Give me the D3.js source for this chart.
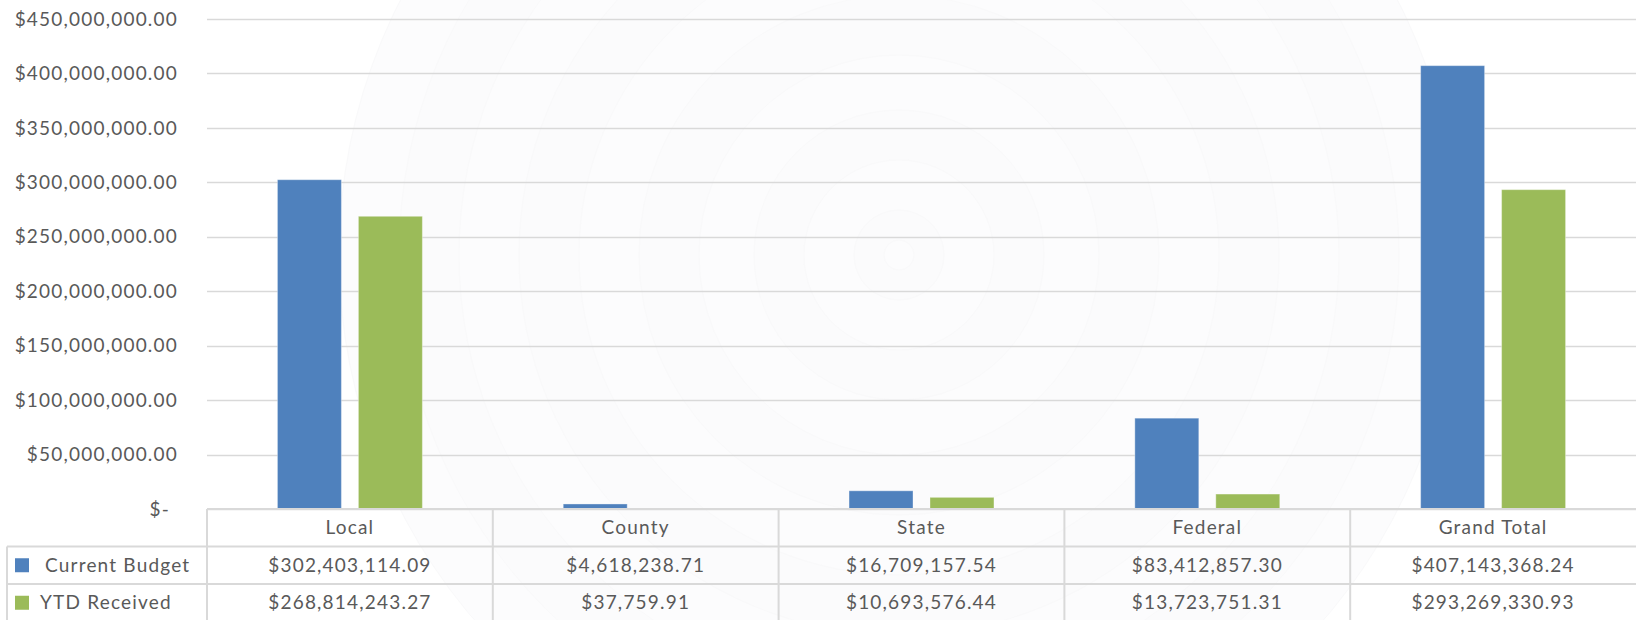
<!DOCTYPE html>
<html>
<head>
<meta charset="utf-8">
<script src="https://cdn.jsdelivr.net/npm/d3@7"></script>
<style>
    body { margin: 0; background: #fff; }
    #chart { width: 1636px; height: 620px; }
    text { font-family: Lato, "Open Sans", sans-serif; fill: #595959; }
</style>
</head>
<body>
<div id="chart"></div>
<script>
// data
const categories = ["Local", "County", "State", "Federal", "Grand Total"];
const seriesNames = ["Current Budget", "YTD Received"];
const currentBudget = [302403114.09, 4618238.71, 16709157.54, 83412857.30, 407143368.24];
const ytdReceived = [268814243.27, 37759.91, 10693576.44, 13723751.31, 293269330.93];
const yTicks = [0, 50e6, 100e6, 150e6, 200e6, 250e6, 300e6, 350e6, 400e6, 450e6];

const colors = ["#4F81BD", "#9BBB59"];

let width = 1636, height = 620;
let margin = {left: 207, right: 0, top: 19, bottom: 111};

let svg = d3.select("#chart").append("svg")
    .attr("width", width)
    .attr("height", height);

// faint concentric watermark behind the plot
let bg = svg.append("g").attr("transform", "translate(899,255)");
[560, 500, 440, 380, 320, 260, 200, 145, 95, 45, 15].forEach((r, i) => {
    bg.append("circle")
        .attr("r", r)
        .attr("fill", i % 2 ? "#fbfbfc" : "#fcfcfd")
        .attr("stroke", "#f9f9fa")
        .attr("stroke-width", 1);
});

let x = d3.scaleBand()
    .domain(categories)
    .range([margin.left, width - margin.right]);

let xSub = d3.scaleBand()
    .domain(seriesNames)
    .range([0, x.bandwidth()])
    .paddingInner(0.21)
    .paddingOuter(0.87);

let y = d3.scaleLinear()
    .domain([0, 450e6])
    .range([height - margin.bottom, margin.top]);

let money = d3.format(",.2f");

// gridlines
svg.append("g")
    .selectAll("line")
    .data(yTicks)
    .enter().append("line")
    .attr("x1", margin.left)
    .attr("x2", width)
    .attr("y1", d => Math.round(y(d)) + 0.5)
    .attr("y2", d => Math.round(y(d)) + 0.5)
    .attr("stroke", "#d9d9d9")
    .attr("stroke-width", 1.3);

// y labels
svg.append("g")
    .selectAll("text")
    .data(yTicks)
    .enter().append("text")
    .attr("x", d => d === 0 ? 170 : 178)
    .attr("y", d => y(d))
    .attr("dy", "0.35em")
    .attr("text-anchor", "end")
    .style("font-size", "19px")
    .style("letter-spacing", "1.2px")
    .text(d => d === 0 ? "$-" : "$" + money(d));

// bars
let rows = categories.map((c, i) => ({cat: c, values: [currentBudget[i], ytdReceived[i]]}));

let groups = svg.append("g").selectAll("g")
    .data(rows)
    .enter().append("g")
    .attr("transform", d => `translate(${x(d.cat)},0)`);

groups.selectAll("rect")
    .data(d => d.values.map((v, j) => ({name: seriesNames[j], value: v, j: j})))
    .enter().append("rect")
    .attr("x", d => xSub(d.name))
    .attr("width", xSub.bandwidth())
    .attr("y", d => y(d.value))
    .attr("height", d => y(0) - y(d.value))
    .attr("fill", d => colors[d.j])
    .attr("stroke", "rgba(255,255,255,0.35)")
    .attr("stroke-width", 1);

// data table
let tableTop = y(0);
let rowH = 37.5;
let table = svg.append("g");
let borderColor = "#d9d9d9";

// horizontal lines
table.append("line")
    .attr("x1", margin.left).attr("x2", width)
    .attr("y1", tableTop).attr("y2", tableTop)
    .attr("stroke", borderColor).attr("stroke-width", 2);
[1, 2].forEach(r => {
    table.append("line")
        .attr("x1", 7).attr("x2", width)
        .attr("y1", tableTop + r * rowH).attr("y2", tableTop + r * rowH)
        .attr("stroke", borderColor).attr("stroke-width", 2);
});

// vertical lines
table.append("line")
    .attr("x1", 7).attr("x2", 7)
    .attr("y1", tableTop + rowH).attr("y2", height)
    .attr("stroke", borderColor).attr("stroke-width", 2);
categories.forEach(c => {
    table.append("line")
        .attr("x1", x(c)).attr("x2", x(c))
        .attr("y1", tableTop).attr("y2", height)
        .attr("stroke", borderColor).attr("stroke-width", 2);
});

// category header
table.selectAll(".cat-label")
    .data(categories)
    .enter().append("text")
    .attr("class", "cat-label")
    .attr("x", d => x(d) + x.bandwidth() / 2)
    .attr("y", tableTop + rowH / 2)
    .attr("dy", "0.35em")
    .attr("text-anchor", "middle")
    .style("font-size", "19px")
    .style("letter-spacing", "1.2px")
    .text(d => d);

// value rows
[currentBudget, ytdReceived].forEach((vals, r) => {
    let cy = tableTop + (r + 1) * rowH + rowH / 2;
    table.append("rect")
        .attr("x", 15)
        .attr("y", cy - 7)
        .attr("width", 14)
        .attr("height", 14)
        .attr("fill", colors[r]);
    table.append("text")
        .attr("x", r === 0 ? 45 : 40)
        .attr("y", cy)
        .attr("dy", "0.35em")
        .style("font-size", "19px")
        .style("letter-spacing", "1.2px")
        .text(seriesNames[r]);
    table.selectAll(".val" + r)
        .data(vals)
        .enter().append("text")
        .attr("class", "val" + r)
        .attr("x", (d, i) => x(categories[i]) + x.bandwidth() / 2)
        .attr("y", cy)
        .attr("dy", "0.35em")
        .attr("text-anchor", "middle")
        .style("font-size", "19px")
        .style("letter-spacing", "1.2px")
        .text(d => "$" + money(d));
});
</script>
</body>
</html>
